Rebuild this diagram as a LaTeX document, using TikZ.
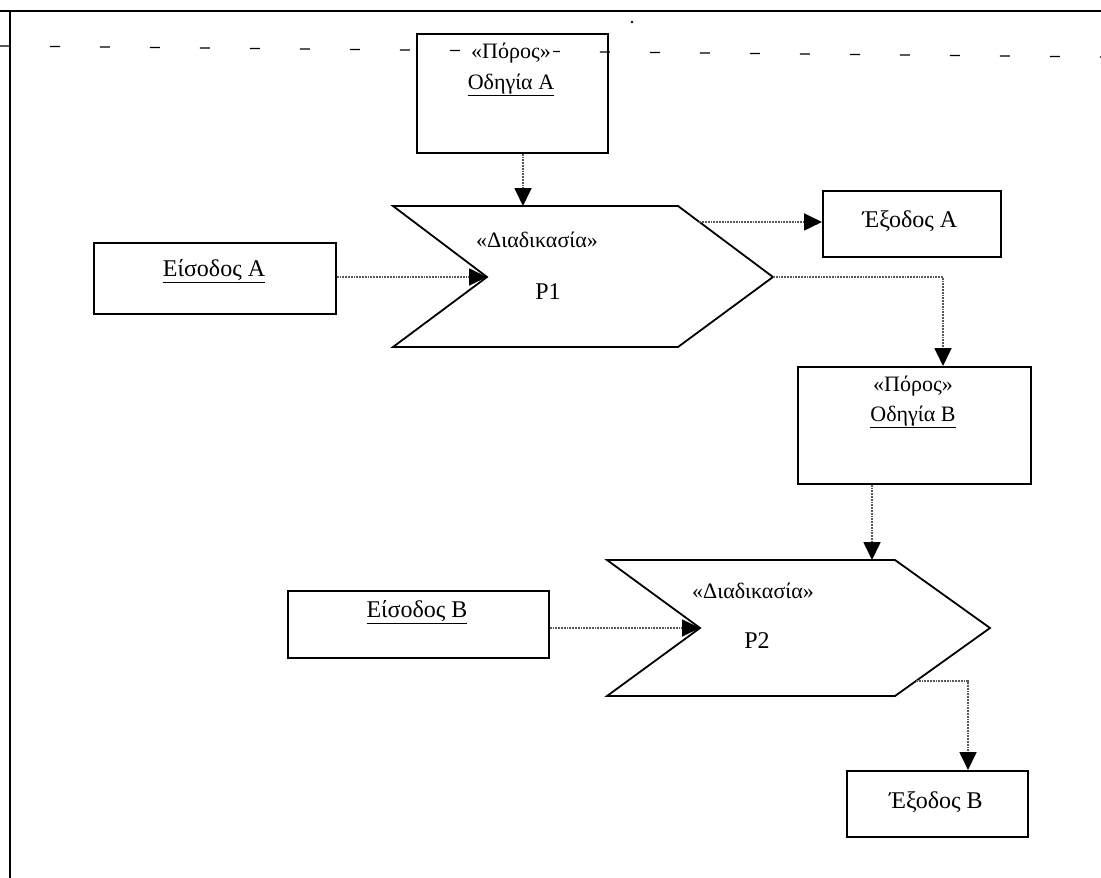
\documentclass[tikz,border=0pt]{standalone}
\usepackage{fontspec}
\setmainfont{Liberation Serif}
\usetikzlibrary{arrows.meta,calc}
\begin{document}
\begin{tikzpicture}[x=1pt,y=-1pt,
  box/.style={draw,line width=1.8pt,anchor=north west,inner sep=0pt},
  chevron/.style={draw,line width=1.8pt,line join=miter},
  flow/.style={draw=black!65,line width=1.8pt,densely dotted,
    -{Triangle[length=18pt,width=17pt,black]}},
  lbl/.style={font=\fontsize{22}{26}\selectfont,inner sep=0pt},
  lblbig/.style={font=\fontsize{24}{28}\selectfont,inner sep=0pt},
]
\useasboundingbox (0,0) rectangle (1101,878);

% page frame and the guide line across the top
\draw[line width=1.8pt] (0,11) -- (1101,11);
\draw[line width=1.8pt] (10,11) -- (10,878);
\draw[line width=1.3pt,dash pattern=on 10pt off 40pt] (0,46) -- (1101,57);
\fill (632,22) circle (1.3pt);

% resource: instruction A
\node[box,minimum width=191pt,minimum height=119pt] (pa) at (416,33) {};
\node[lbl,fill=white,inner sep=2pt] (paS) at (511,53) {«Πόρος»};
\node[lbl] (paN) at (511,85) {\underline{Οδηγία Α}};

% process P1
\coordinate (p1tl) at (393,206);
\coordinate (p1tr) at (678,206);
\coordinate (p1tip) at (773,277);
\coordinate (p1br) at (678,347);
\coordinate (p1bl) at (393,347);
\coordinate (p1notch) at (487,277);
\draw[chevron] (p1tl) -- (p1tr) -- (p1tip) -- (p1br) -- (p1bl) -- (p1notch) -- cycle;
\node[lbl] (p1S) at (537,240) {«Διαδικασία»};
\node[lblbig] (p1N) at (548,292) {P1};

% input A and output A
\node[box,minimum width=242pt,minimum height=71pt] (ea) at (93,242) {};
\node[lblbig] (eaT) at (214,271) {\underline{Είσοδος Α}};
\node[box,minimum width=178pt,minimum height=66pt] (xa) at (822,190) {};
\node[lblbig] (xaT) at (910,221) {Έξοδος Α};

% resource: instruction B
\node[box,minimum width=233pt,minimum height=117pt] (pb) at (797,366) {};
\node[lbl] (pbS) at (913,386) {«Πόρος»};
\node[lbl] (pbN) at (913,417) {\underline{Οδηγία Β}};

% process P2
\coordinate (p2tl) at (607,560);
\coordinate (p2tr) at (895,560);
\coordinate (p2tip) at (990,628);
\coordinate (p2br) at (895,696);
\coordinate (p2bl) at (607,696);
\coordinate (p2notch) at (700,628);
\draw[chevron] (p2tl) -- (p2tr) -- (p2tip) -- (p2br) -- (p2bl) -- (p2notch) -- cycle;
\node[lbl] (p2S) at (753,591) {«Διαδικασία»};
\node[lblbig] (p2N) at (757,641) {P2};

% input B and output B
\node[box,minimum width=261pt,minimum height=67pt] (eb) at (287,590) {};
\node[lblbig] (ebT) at (417,612) {\underline{Είσοδος Β}};
\node[box,minimum width=181pt,minimum height=66pt] (xb) at (846,770) {};
\node[lblbig] (xbT) at (936,802) {Έξοδος Β};

% connectors
\coordinate (p1out) at ($(p1tr)!0.225!(p1tip)$);
\coordinate (p2out) at ($(p2tip)!0.78!(p2br)$);
\draw[flow] ($(pa.south west)+(107,0)$) -- (p1tl -| {$(pa.south west)+(107,0)$});
\draw[flow] (ea.east |- p1notch) -- (p1notch);
\draw[flow] (p1out) -- (p1out -| xa.west);
\draw[flow] (p1tip) -| ($(pb.north west)+(146,0)$);
\draw[flow] ($(pb.south west)+(75,0)$) -- (p2tl -| {$(pb.south west)+(75,0)$});
\draw[flow] (eb.east |- p2notch) -- (p2notch);
\draw[flow] (p2out) -| ($(xb.north west)+(122,0)$);
\end{tikzpicture}
\end{document}
